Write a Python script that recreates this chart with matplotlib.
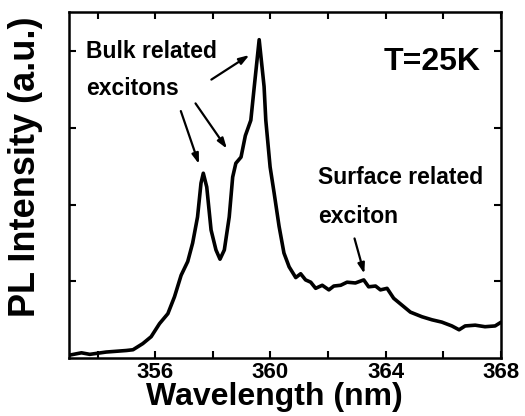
import matplotlib
matplotlib.use("Agg")
import matplotlib.pyplot as plt

plt.rcParams['font.family'] = ['Liberation Sans', 'DejaVu Sans']
plt.rcParams['font.weight'] = 'bold'

wavelength = [353.03, 353.44, 353.73, 354.30, 355.00, 355.23, 355.57, 355.86, 356.15, 356.44,
              356.67, 356.90, 357.13, 357.30, 357.47, 357.59, 357.67, 357.79, 357.94, 358.11,
              358.25, 358.40, 358.57, 358.69, 358.80, 358.98, 359.13, 359.32, 359.44, 359.61,
              359.78, 359.84, 359.99, 360.13, 360.30, 360.47, 360.65, 360.88, 361.05, 361.22,
              361.40, 361.57, 361.80, 362.03, 362.20, 362.44, 362.66, 362.95, 363.24, 363.41,
              363.65, 363.82, 364.05, 364.28, 364.57, 364.86, 365.26, 365.61, 365.95, 366.30,
              366.55, 366.76, 367.11, 367.45, 367.80, 367.97]
intensity = [0.04, 0.07, 0.05, 0.08, 0.10, 0.11, 0.19, 0.28, 0.45, 0.58,
             0.80, 1.08, 1.26, 1.50, 1.84, 2.28, 2.41, 2.23, 1.67, 1.41,
             1.29, 1.41, 1.84, 2.36, 2.54, 2.62, 2.90, 3.10, 3.54, 4.15,
             3.54, 3.10, 2.49, 2.15, 1.72, 1.37, 1.19, 1.05, 1.10, 1.02,
             0.99, 0.91, 0.95, 0.89, 0.94, 0.95, 0.99, 0.98, 1.02, 0.93,
             0.94, 0.89, 0.91, 0.78, 0.69, 0.60, 0.54, 0.50, 0.47, 0.42,
             0.37, 0.42, 0.43, 0.41, 0.42, 0.46]

xticks_major = [356, 360, 364, 368]
xticks_minor = [354, 358, 362, 366]
yticks = [1, 2, 3, 4]

fig = plt.figure(figsize=(5.25, 4.16), dpi=100)
ax = fig.add_axes([0.131, 0.139, 0.823, 0.832])
ax.plot(wavelength, intensity, color='black', lw=2.6, solid_joinstyle='round')
ax.set_xlim(353, 368)
ax.set_ylim(0, 4.51)

ax.set_xticks(xticks_major)
ax.set_xticks(xticks_minor, minor=True)
ax.set_yticks(yticks)
ax.set_yticklabels([])
ax.tick_params(axis='both', which='both', direction='in', top=True, right=True,
               width=1.5, length=5)
ax.tick_params(axis='x', labelsize=16, pad=3)
for lab in ax.get_xticklabels():
    lab.set_fontweight('bold')
for s in ax.spines.values():
    s.set_linewidth(1.8)

ax.set_xlabel('Wavelength (nm)', fontsize=23, fontweight='bold', va='center')
ax.xaxis.set_label_coords(0.477, -0.113)
ax.set_ylabel('PL Intensity (a.u.)', fontsize=26, fontweight='bold', va='center')
ax.yaxis.set_label_coords(-0.099, 0.552)

ax.text(353.6, 4.0, 'Bulk related', fontsize=16.5, fontweight='bold', va='center', ha='left')
ax.text(353.6, 3.51, 'excitons', fontsize=16.5, fontweight='bold', va='center', ha='left')
ax.text(367.3, 3.86, 'T=25K', fontsize=23, fontweight='bold', va='center', ha='right')
ax.text(361.65, 2.36, 'Surface related', fontsize=16.5, fontweight='bold', va='center', ha='left')
ax.text(361.65, 1.84, 'exciton', fontsize=16.5, fontweight='bold', va='center', ha='left')

arrows = [((357.95, 3.63), (359.27, 3.95)),
          ((356.89, 3.22), (357.52, 2.53)),
          ((357.40, 3.32), (358.49, 2.73)),
          ((362.92, 1.56), (363.26, 1.10))]
for tail, head in arrows:
    ax.annotate('', xy=head, xytext=tail,
                arrowprops=dict(arrowstyle='-|>,head_length=0.6,head_width=0.2',
                                color='black', lw=1.6, shrinkA=0, shrinkB=0))

fig.savefig('out.png', dpi=100)
